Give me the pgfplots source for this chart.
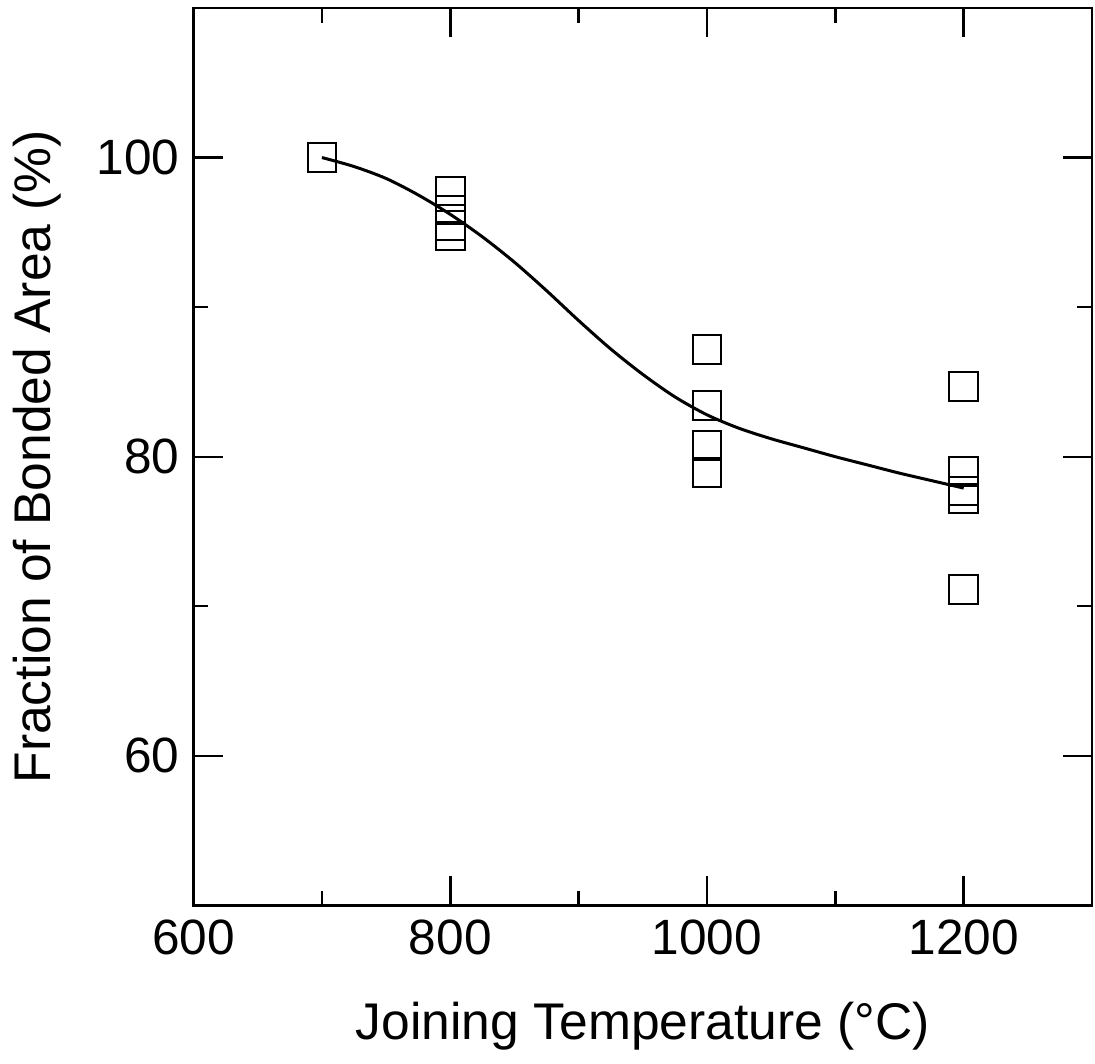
\documentclass[border=0pt]{standalone}
\usepackage{fontspec}
\setmainfont{Liberation Sans}
\usepackage{pgfplots}
\pgfplotsset{compat=1.18}
\begin{document}
\begin{tikzpicture}
\begin{axis}[
  width=224.75pt, height=224.5pt, scale only axis,
  xmin=600, xmax=1300, ymin=50, ymax=110,
  xtick={600,800,1000,1200}, minor xtick={700,900,1100},
  ytick={60,80,100}, minor ytick={70,90},
  tick pos=both, tick align=inside,
  major tick length=7.25pt, minor tick length=3.7pt,
  axis line style={line width=0.65pt},
  every tick/.style={line width=0.6pt, black},
  /pgf/number format/1000 sep={},
  /pgf/number format/assume math mode=true,
  tick label style={font=\fontsize{12.4}{14.9}\selectfont},
  label style={font=\fontsize{12.9}{15.5}\selectfont},
  xlabel style={yshift=-5pt},
  ylabel shift=2pt,
  xlabel={Joining Temperature (°C)},
  ylabel={Fraction of Bonded Area (\%)},
  clip=false,
]
\path (rel axis cs:-0.2147,-0.1682) rectangle (rel axis cs:1.0033,1.0089);
\addplot[only marks, mark=square, mark size=3.6pt, mark options={line width=0.5pt, black}] coordinates {
  (700,100)
  (800,97.76) (800,96.49) (800,95.48) (800,94.75)
  (1000,87.16) (1000,83.41) (1000,80.73) (1000,78.93)
  (1200,84.68) (1200,79.0) (1200,77.7) (1200,77.2) (1200,71.13)
};
\addplot[black, line width=0.75pt, smooth, tension=0.5] coordinates {
  (700,100) (725,99.4) (750,98.6) (775,97.5) (800,96.2) (825,94.7)
  (850,93.0) (875,91.1) (900,89.1) (925,87.2) (950,85.5) (975,84.0)
  (1000,82.8) (1025,81.9) (1050,81.2) (1075,80.6) (1100,80.0)
  (1125,79.45) (1150,78.9) (1175,78.4) (1200,77.9)
};
\end{axis}
\end{tikzpicture}
\end{document}
